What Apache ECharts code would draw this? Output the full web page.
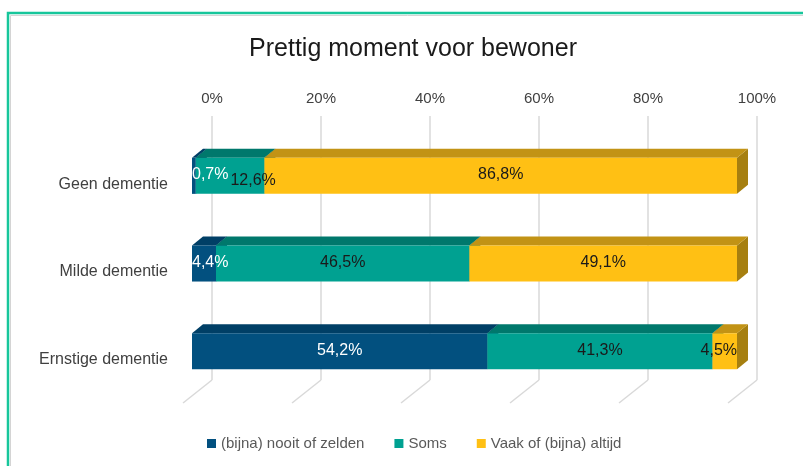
<!DOCTYPE html>
<html>
<head>
<meta charset="utf-8">
<script src="https://cdn.jsdelivr.net/npm/echarts@6/dist/echarts.min.js"></script>
<style>html,body{margin:0;padding:0;background:#fff}#main{width:803px;height:466px}</style>
</head>
<body>
<div id="main"></div>
<script>
// categories + values
var categories = ['Geen dementie', 'Milde dementie', 'Ernstige dementie'];
var seriesNames = ['(bijna) nooit of zelden', 'Soms', 'Vaak of (bijna) altijd'];
var nooit = [0.7, 4.4, 54.2];
var soms = [12.6, 46.5, 41.3];
var vaak = [86.8, 49.1, 4.5];
var ticks = [0, 20, 40, 60, 80, 100];

var FONT = '"Liberation Sans", Arial, sans-serif';
var LBL = 16;
var front = ['#02507f', '#00a191', '#ffc014'];
var topc = ['#003f66', '#00786c', '#c29315'];
var side = ['#013a5c', '#006a60', '#a67f10'];
var DX = 11, DY = -9, BAR = 36 / 87.5;

var values = [nooit, soms, vaak];

// 100% stacking, like excel
function stackData(s) {
  var out = [];
  for (var i = 0; i < categories.length; i++) {
    var tot = 0, start = 0;
    for (var k = 0; k < values.length; k++) tot += values[k][i];
    for (var k = 0; k < s; k++) start += values[k][i] / tot * 100;
    out.push([start, start + values[s][i] / tot * 100, i, values[s][i]]);
  }
  return out;
}

function txtW(t) {
  var w = 0;
  for (var c of t) w += c == ',' ? 0.278 : c == '%' ? 0.889 : 0.556;
  return w * LBL;
}
function fmt(v) { return v.toFixed(1).replace('.', ',') + '%'; }

function labelPos(api, s, i) {
  var st = stackData(s)[i];
  var x0 = api.coord([st[0], i])[0], x1 = api.coord([st[1], i])[0];
  var L = api.coord([0, i])[0], R = api.coord([100, i])[0];
  var half = txtW(fmt(st[3])) / 2;
  var cx = (x0 + x1) / 2, dy = 0;
  cx = Math.max(cx, L + half);
  cx = Math.min(cx, R - half);
  if (s > 0) {
    var p = labelPos(api, s - 1, i);
    if (cx - half < p.cx + p.half + 1) { cx = p.cx + p.half + 2 + half; dy = 5; }
  }
  return { cx: cx, half: half, dy: dy };
}

function render(s) {
  return function (params, api) {
    var i = api.value(2);
    var p0 = api.coord([api.value(0), i]);
    var p1 = api.coord([api.value(1), i]);
    var h = api.size([0, 1])[1] * BAR;
    var t = p0[1] - h / 2, x0 = p0[0], x1 = p1[0];
    return {
      type: 'group',
      children: [
        { type: 'polygon', shape: { points: [[x1, t], [x1 + DX, t + DY], [x1 + DX, t + h + DY], [x1, t + h]] }, style: { fill: side[s] } },
        { type: 'polygon', shape: { points: [[x0, t], [x1, t], [x1 + DX, t + DY], [x0 + DX, t + DY]] }, style: { fill: topc[s] } },
        { type: 'rect', shape: { x: x0, y: t, width: x1 - x0, height: h }, style: { fill: front[s] } }
      ]
    };
  };
}
// labels go in their own series so they sit above every bar
function renderLabel(s) {
  return function (params, api) {
    var i = api.value(2);
    var p0 = api.coord([api.value(0), i]);
    var lp = labelPos(api, s, i);
    return { type: 'text', style: { text: fmt(api.value(3)), x: lp.cx, y: p0[1] + lp.dy - (lp.dy ? 0 : 1), textAlign: 'center', textVerticalAlign: 'middle',
      fill: s == 0 ? '#ffffff' : '#1a1a1a', font: LBL + 'px ' + FONT } };
  };
}

var series = [];
for (var s = 0; s < 3; s++) {
  series.push({
    name: seriesNames[s], type: 'custom', xAxisIndex: 0, yAxisIndex: 0,
    itemStyle: { color: front[s] },
    encode: { x: [0, 1], y: 2 },
    renderItem: render(s),
    data: stackData(s)
  });
}
for (var s = 0; s < 3; s++) {
  series.push({
    type: 'custom', xAxisIndex: 0, yAxisIndex: 0, z: 10, silent: true,
    encode: { x: [0, 1], y: 2 },
    renderItem: renderLabel(s),
    data: stackData(s)
  });
}
// floor lines of the 3d box
series.push({
  type: 'custom', xAxisIndex: 1, yAxisIndex: 1, silent: true, z: 1,
  encode: { x: 0 },
  data: ticks.map(function (v) { return [v]; }),
  renderItem: function (params, api) {
    var x = api.coord([api.value(0), 0])[0];
    var y = params.coordSys.y + params.coordSys.height;
    return { type: 'line', shape: { x1: x, y1: y, x2: x - 29, y2: y + 23 }, style: { stroke: '#d9d9d9', lineWidth: 1.5 } };
  }
});

var myChart = echarts.init(document.getElementById('main'));
myChart.setOption({
  animation: false,
  textStyle: { fontFamily: FONT },
  title: {
    text: 'Prettig moment voor bewoner', left: 408, top: 32, textAlign: 'center',
    textStyle: { fontSize: 25, fontWeight: 'normal', color: '#1a1a1a', fontFamily: FONT }
  },
  legend: {
    data: seriesNames, left: 202, top: 431, itemWidth: 9, itemHeight: 9, itemGap: 30, icon: 'rect',
    textStyle: { fontSize: 15, color: '#595959', fontFamily: FONT }
  },
  grid: [
    { left: 192, right: 66, top: 132, bottom: 71 },
    { left: 212, right: 46, top: 116, bottom: 86 }
  ],
  xAxis: [
    { gridIndex: 0, type: 'value', min: 0, max: 100, show: false },
    { gridIndex: 1, type: 'value', min: 0, max: 100, interval: 20, position: 'top',
      axisLine: { show: false }, axisTick: { show: false },
      axisLabel: { formatter: '{value}%', fontSize: 15, color: '#404040', margin: 10, fontFamily: FONT },
      splitLine: { lineStyle: { color: '#d9d9d9', width: 1.5 } } }
  ],
  yAxis: [
    { gridIndex: 0, type: 'category', data: categories, inverse: true,
      axisLine: { show: false }, axisTick: { show: false }, splitLine: { show: false },
      axisLabel: { fontSize: 16, color: '#404040', margin: 24, verticalAlign: 'top', lineHeight: 17, fontFamily: FONT } },
    { gridIndex: 1, type: 'value', min: 0, max: 1, show: false }
  ],
  graphic: [
    { type: 'rect', shape: { x: 10.5, y: 15.5, width: 820, height: 480 }, style: { fill: 'none', stroke: '#d4d4d4', lineWidth: 1 }, silent: true },
    { type: 'rect', shape: { x: 8, y: 13, width: 820, height: 480 }, style: { fill: 'none', stroke: '#17c69b', lineWidth: 2.5 }, silent: true }
  ],
  series: series
});
</script>
</body>
</html>
